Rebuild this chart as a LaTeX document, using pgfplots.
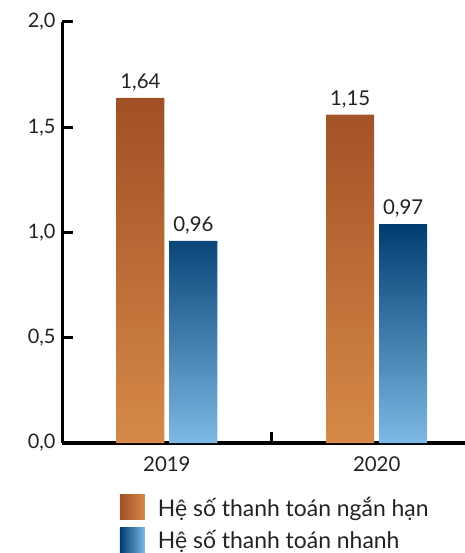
\documentclass[border=0pt]{standalone}
\usepackage{fontspec}
\setmainfont{Lato}
\usepackage{pgfplots}
\pgfplotsset{compat=1.18}
\definecolor{otop}{HTML}{A14F25}
\definecolor{obot}{HTML}{D68A48}
\definecolor{btop}{HTML}{003C6F}
\definecolor{bbot}{HTML}{7DB9E4}
\definecolor{txt}{HTML}{222222}
\begin{document}
\begin{tikzpicture}
\useasboundingbox (0,0) rectangle (465bp,553bp);
\begin{axis}[
  at={(62bp,110bp)}, anchor=south west,
  scale only axis, width=407bp, height=421bp,
  xmin=-0.5, xmax=1.44, ymin=0, ymax=2,
  axis x line*=bottom, axis y line*=left,
  axis line style={line width=3bp, -, black},
  xtick pos=bottom, ytick pos=left,
  major tick length=0pt,
  ytick={0,0.5,1,1.5,2},
  /pgf/number format/use comma, /pgf/number format/fixed, /pgf/number format/fixed zerofill,
  /pgf/number format/precision=1, /pgf/number format/assume math mode=true,
  yticklabel style={font=\fontsize{20}{22}\selectfont, text=txt, xshift=-3bp},
  xtick={0,1}, xticklabels={2019,2020},
  xticklabel style={font=\fontsize{20.5}{22}\selectfont, text=txt, yshift=-10bp},
  ybar=5bp, bar width=48bp,
  nodes near coords, point meta=explicit symbolic,
  nodes near coords style={font=\fontsize{20.5}{22}\selectfont, text=txt, yshift=3bp},
  legend style={draw=none, fill=none, at={(axis description cs:0.142,-0.121)}, anchor=north west,
    font=\fontsize{23}{25}\selectfont, text=txt, inner sep=0pt, row sep=8bp,
    nodes={inner sep=0pt, text depth=0pt}},
  legend cell align=left,
  clip=false,
]
\addplot[draw=none, shade, top color=otop, bottom color=obot,
  legend image code/.code={\shade[left color=otop, right color=obot] (0bp,-12.5bp) rectangle (25bp,12.5bp); \path (38bp,0) ;}]
  coordinates {(0,1.64) [1,64] (1,1.56) [1,15]};
\addplot[draw=none, shade, top color=btop, bottom color=bbot,
  legend image code/.code={\shade[left color=btop, right color=bbot] (0bp,-12.5bp) rectangle (25bp,12.5bp); \path (38bp,0) ;}]
  coordinates {(0,0.96) [0,96] (1,1.04) [0,97]};
\legend{Hệ số thanh toán ngắn hạn, Hệ số thanh toán nhanh}
\draw[line width=3bp, black] (axis cs:-0.5,0.5) -- ++(11bp,0bp);
\draw[line width=3bp, black] (axis cs:-0.5,1) -- ++(11bp,0bp);
\draw[line width=3bp, black] (axis cs:-0.5,1.5) -- ++(11bp,0bp);
\draw[line width=3bp, black] (axis cs:-0.5,2) -- ++(11bp,0bp);
\draw[line width=3bp, black] (axis cs:0.5,0) -- ++(0bp,11bp);
\end{axis}
\end{tikzpicture}
\end{document}
